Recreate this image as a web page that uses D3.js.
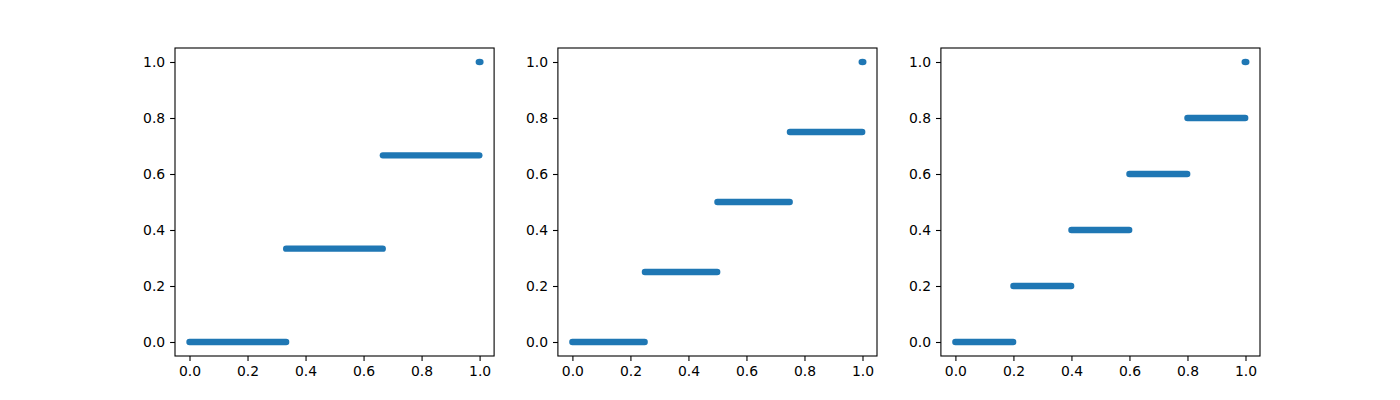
<!DOCTYPE html>
<html>
<head>
<meta charset="utf-8">
<script src="https://cdn.jsdelivr.net/npm/d3@7.9.0/dist/d3.min.js"></script>
<style>
  body { margin: 0; background: #fff; }
  svg text { font-family: "DejaVu Sans", sans-serif; font-size: 13.9px; fill: #000; }
</style>
</head>
<body>
<svg id="chart" width="1400" height="400"></svg>
<script>
// step levels per panel: n = 3, 4, 5 bins; each step runs from its start to just before the next
const panelBins = [3, 4, 5];
const stepStarts = [
  [0, 1/3, 2/3],
  [0, 0.25, 0.5, 0.75],
  [0, 0.2, 0.4, 0.6, 0.8]
];
const stepEnds = [
  [0.333, 0.666, 0.999],
  [0.249, 0.499, 0.749, 0.999],
  [0.199, 0.399, 0.599, 0.799, 0.999]
];
const stepLevels = [
  [0, 1/3, 2/3],
  [0, 0.25, 0.5, 0.75],
  [0, 0.2, 0.4, 0.6, 0.8]
];
const endPoint = { x: 1, y: 1 };
const tickValues = [0, 0.2, 0.4, 0.6, 0.8, 1.0];

const svg = d3.select('#chart');
const axW = 319.1, axH = 308, axTop = 48;
const lefts = [175, 557.9, 940.9];
const blue = '#1f77b4';

panelBins.forEach((n, i) => {
  const g = svg.append('g').attr('transform', `translate(${lefts[i]},${axTop})`);
  const x = d3.scaleLinear().domain([-0.05, 1.05]).range([0, axW]);
  const y = d3.scaleLinear().domain([-0.05, 1.05]).range([axH, 0]);

  // steps drawn as thick round-capped segments (dense scatter look)
  stepStarts[i].forEach((s, j) => {
    g.append('line')
      .attr('x1', x(s)).attr('x2', x(stepEnds[i][j]))
      .attr('y1', y(stepLevels[i][j])).attr('y2', y(stepLevels[i][j]))
      .attr('stroke', blue).attr('stroke-width', 6.4)
      .attr('stroke-linecap', 'round');
  });
  g.append('ellipse')
    .attr('cx', x(endPoint.x)).attr('cy', y(endPoint.y))
    .attr('rx', 4).attr('ry', 3.2).attr('fill', blue);

  const xAxis = d3.axisBottom(x).tickValues(tickValues).tickFormat(d3.format('.1f'))
    .tickSizeInner(4.9).tickSizeOuter(0).tickPadding(4.9);
  const yAxis = d3.axisLeft(y).tickValues(tickValues).tickFormat(d3.format('.1f'))
    .tickSizeInner(4.9).tickSizeOuter(0).tickPadding(4.9);

  const gx = g.append('g').attr('transform', `translate(0,${axH})`).call(xAxis);
  const gy = g.append('g').call(yAxis);
  [gx, gy].forEach(a => {
    a.select('.domain').remove();
    a.selectAll('line').attr('stroke', '#000').attr('stroke-width', 1.1);
    a.selectAll('text').attr('font-family', null).attr('font-size', null);
  });
  gx.selectAll('text').attr('dy', '0.71em');

  g.append('rect')
    .attr('width', axW).attr('height', axH)
    .attr('fill', 'none').attr('stroke', '#000').attr('stroke-width', 1.1);
});
</script>
</body>
</html>
